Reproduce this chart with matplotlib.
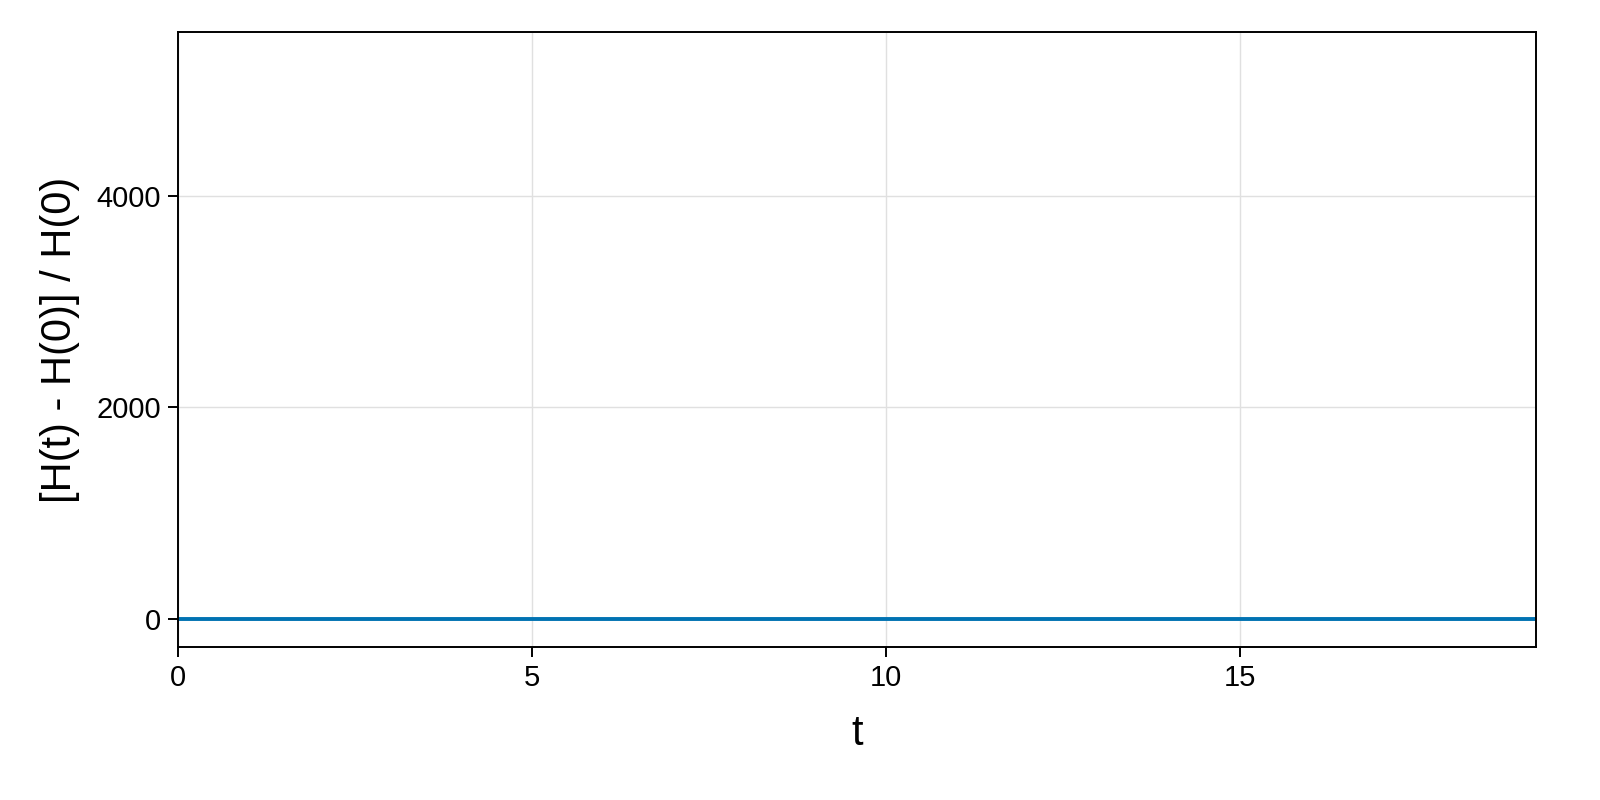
import matplotlib
matplotlib.use("Agg")
import matplotlib.pyplot as plt

plt.rcParams['font.family'] = ['Liberation Sans', 'DejaVu Sans']

# relative energy error, flat at ~0 over the whole run
t = [0.0, 1.0, 2.0, 3.0, 4.0, 5.0, 6.0, 7.0, 8.0, 9.0, 10.0,
     11.0, 12.0, 13.0, 14.0, 15.0, 16.0, 17.0, 18.0, 19.0, 19.18]
dH = [0.0, 0.0, 0.0, 0.0, 0.0, 0.0, 0.0, 0.0, 0.0, 0.0, 0.0,
      0.0, 0.0, 0.0, 0.0, 0.0, 0.0, 0.0, 0.0, 0.0, 0.0]

xticks = [0, 5, 10, 15]
yticks = [0, 2000, 4000]

fig = plt.figure(figsize=(16, 8), dpi=100)
ax = fig.add_axes([0.11125, 0.19125, 0.84875, 0.76875])

ax.plot(t, dH, color=(0/255, 114/255, 178/255), lw=2.8, solid_capstyle='butt')

ax.set_xlim(0, 19.18)
ax.set_ylim(-265, 5551)
ax.set_xticks(xticks)
ax.set_yticks(yticks)
ax.grid(True, color='#e0e0e0', lw=1.0)
ax.set_axisbelow(True)
for s in ax.spines.values():
    s.set_linewidth(1.4)
ax.tick_params(direction='out', length=7, width=1.4, labelsize=21, pad=5)

ax.set_xlabel('t', fontsize=30, labelpad=16)
ax.set_ylabel('[H(t) - H(0)] / H(0)', fontsize=30, labelpad=12)

fig.savefig('out.png', dpi=100)
